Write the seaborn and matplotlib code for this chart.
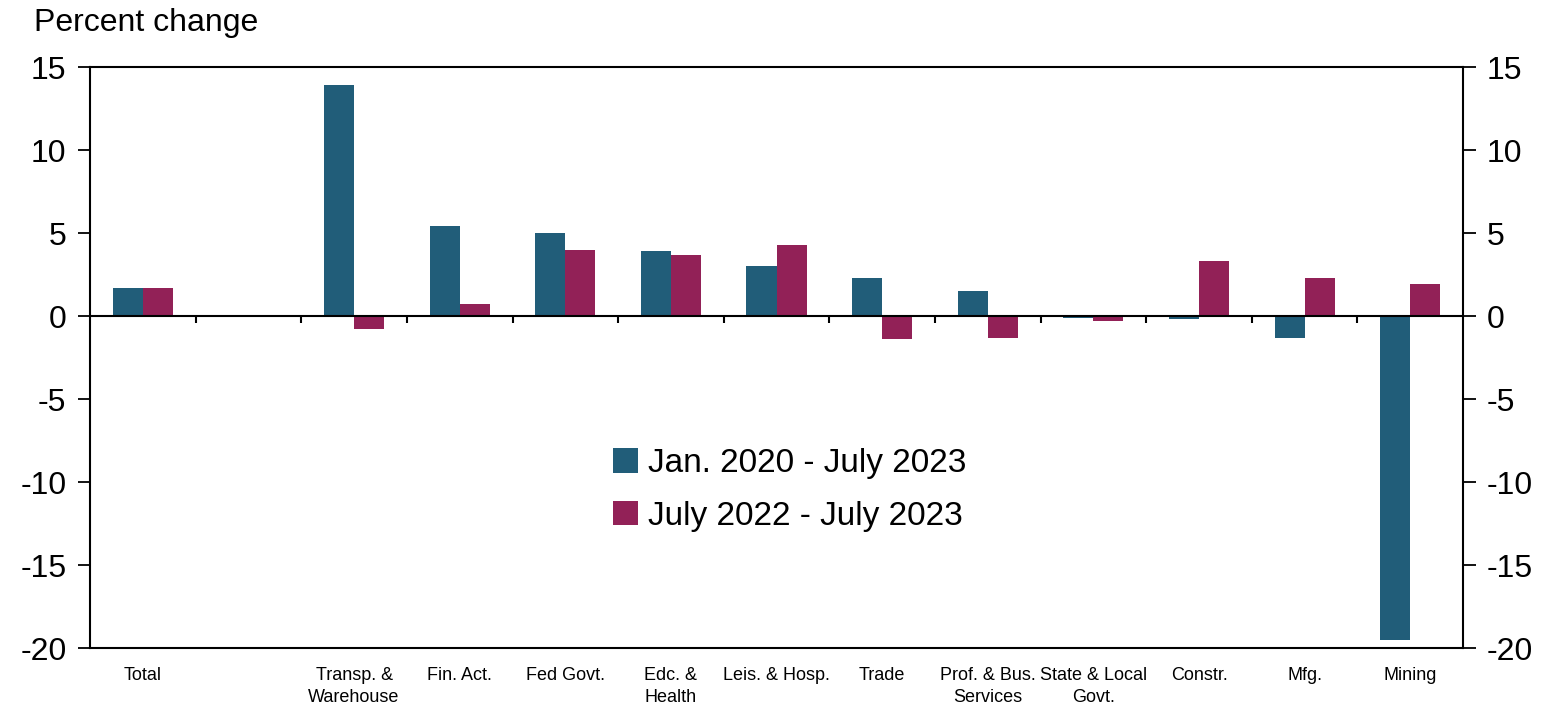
import numpy as np
import pandas as pd
import matplotlib
matplotlib.use("Agg")
import matplotlib.pyplot as plt
import seaborn as sns

# categories (one empty slot after Total, as in the original)
categories = ["Total", "", "Transp. &\nWarehouse", "Fin. Act.", "Fed Govt.", "Edc. &\nHealth",
              "Leis. & Hosp.", "Trade", "Prof. & Bus.\nServices", "State & Local\nGovt.",
              "Constr.", "Mfg.", "Mining"]
since_2020 = [1.7, np.nan, 13.9, 5.4, 5.0, 3.9, 3.0, 2.3, 1.5, -0.1, -0.2, -1.3, -19.5]
since_2022 = [1.7, np.nan, -0.8, 0.7, 4.0, 3.7, 4.3, -1.4, -1.3, -0.3, 3.3, 2.3, 1.9]
series_names = ["Jan. 2020 - July 2023", "July 2022 - July 2023"]
yticks = [15, 10, 5, 0, -5, -10, -15, -20]

sns.set_style("white")
plt.rcParams["font.family"] = ["Liberation Sans Narrow", "Liberation Sans", "DejaVu Sans"]
plt.rcParams["text.color"] = "black"
plt.rcParams["xtick.color"] = "black"
plt.rcParams["ytick.color"] = "black"
plt.rcParams["xtick.labelcolor"] = "black"
plt.rcParams["ytick.labelcolor"] = "black"

df = pd.DataFrame({
    "cat": categories * 2,
    "val": since_2020 + since_2022,
    "series": [series_names[0]] * len(categories) + [series_names[1]] * len(categories),
})

fig = plt.figure(figsize=(15.42, 7.09), dpi=100)
ax = fig.add_axes([0.0584, 0.086, 0.8904, 0.8195])

sns.barplot(data=df, x="cat", y="val", hue="series", order=categories,
            hue_order=series_names, palette=["#215d79", "#922157"],
            width=0.57, gap=0, ax=ax, saturation=1, linewidth=0, edgecolor="none")

ax.set_ylim(-20, 15)
ax.set_xlim(-0.5, len(categories) - 0.5)
ax.set_yticks(yticks)
ax.set_yticklabels([str(t) for t in yticks], fontsize=23)
ax.set_xlabel("")
ax.set_ylabel("")
ax.tick_params(axis="y", direction="out", length=9, width=1.3, pad=8, left=True)
ax.tick_params(axis="x", length=0, labelsize=13, pad=14)
for lbl in ax.get_xticklabels():
    lbl.set_linespacing(1.35)
for s in ax.spines.values():
    s.set_linewidth(1.5)
    s.set_color("black")

# zero line with small separator ticks between categories
ax.axhline(0, color="black", lw=1.5)
seps = np.arange(len(categories) - 1) + 0.5
ax.vlines(seps, -0.4, 0, color="black", lw=1.5)

# right axis mirrors left
ax2 = ax.twinx()
ax2.set_ylim(ax.get_ylim())
ax2.set_yticks(yticks)
ax2.set_yticklabels([str(t) for t in yticks], fontsize=23)
ax2.tick_params(axis="y", direction="out", length=9, width=1.3, pad=8, right=True)
for s in ax2.spines.values():
    s.set_visible(False)

fig.text(0.022, 0.968, "Percent change", fontsize=23, va="center", ha="left")

handles, labels = ax.get_legend_handles_labels()
ax.legend_.remove()
fig.legend(handles, labels, loc="center", bbox_to_anchor=(0.512, 0.309), frameon=False,
           fontsize=24, handlelength=0.75, handleheight=0.75, handletextpad=0.3,
           labelspacing=0.65)

fig.savefig("out.png", dpi=100)
